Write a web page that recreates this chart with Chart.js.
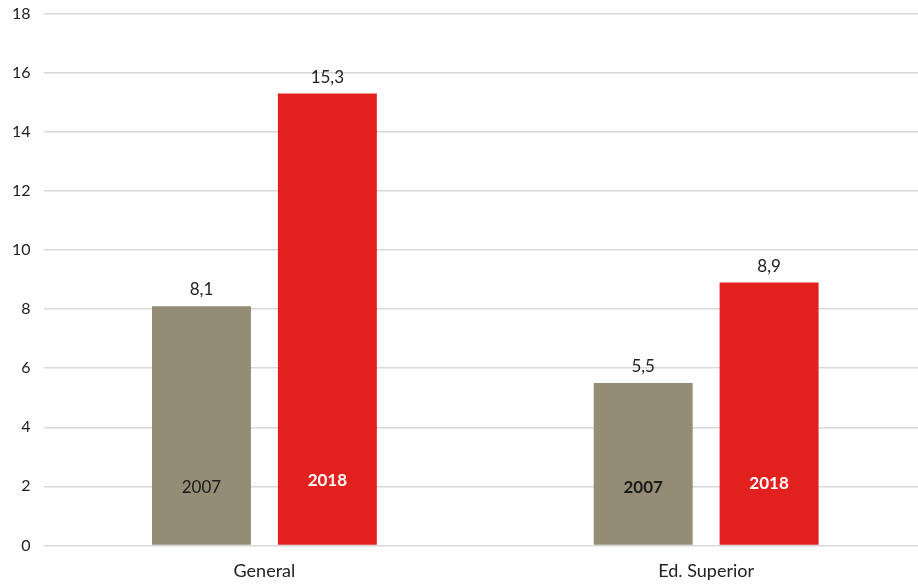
<!DOCTYPE html>
<html>
<head>
<meta charset="utf-8">
<script src="https://cdn.jsdelivr.net/npm/chart.js@4/dist/chart.umd.min.js"></script>
<style>
  html, body { margin: 0; padding: 0; background: #fff; overflow: hidden; }
  #wrap { width: 927px; height: 584px; }
</style>
</head>
<body>
<div id="wrap"><canvas id="chart"></canvas></div>
<script>
// ---- data ----
const categories = ["General", "Ed. Superior"];
const years = ["2007", "2018"];
const values2007 = [8.1, 5.5];
const values2018 = [15.3, 8.9];
const yMin = 0;
const yMax = 18;
const yStep = 2;

const FONT = "Lato, 'Open Sans', sans-serif";

// value above each bar + year label inside the bar
const barLabels = {
  id: "barLabels",
  afterDatasetsDraw(chart) {
    const ctx = chart.ctx;
    ctx.save();
    ctx.textAlign = "center";
    chart.data.datasets.forEach((ds, di) => {
      const meta = chart.getDatasetMeta(di);
      meta.data.forEach((bar, i) => {
        // value on top
        ctx.fillStyle = "#222";
        ctx.font = "17px " + FONT;
        ctx.textBaseline = "bottom";
        ctx.fillText(String(ds.data[i]).replace(".", ","), bar.x, bar.y - 8);
        // year inside the bar
        const bold = !(di === 0 && i === 0);
        ctx.font = (bold ? "bold " : "") + "17px " + FONT;
        ctx.fillStyle = di === 0 ? "#1a1a1a" : "#ffffff";
        ctx.textBaseline = "middle";
        const yOff = di === 0 ? 57 : (i === 0 ? 64 : 61);
        ctx.fillText(ds.label, bar.x, bar.base - yOff);
      });
    });
    ctx.restore();
  }
};

new Chart(document.getElementById("chart"), {
  type: "bar",
  data: {
    labels: categories,
    datasets: [
      { label: years[0], data: values2007, backgroundColor: "#948c74" },
      { label: years[1], data: values2018, backgroundColor: "#e2201e" }
    ]
  },
  options: {
    responsive: true,
    maintainAspectRatio: false,
    animation: false,
    datasets: {
      bar: { categoryPercentage: 0.57, barPercentage: 0.786 }
    },
    layout: { padding: { top: 0, left: -1, right: 0, bottom: -5 } },
    plugins: {
      legend: { display: false },
      tooltip: { enabled: false }
    },
    scales: {
      x: {
        grid: { display: false },
        border: { display: false },
        ticks: { color: "#222", font: { family: FONT, size: 18 }, padding: 7 }
      },
      y: {
        min: yMin,
        max: yMax,
        ticks: { stepSize: yStep, color: "#222", font: { family: FONT, size: 16, lineHeight: 0.1 }, padding: 13 },
        grid: { color: "#d9d9d9", lineWidth: 1.5, drawTicks: false },
        border: { display: false }
      }
    }
  },
  plugins: [barLabels]
});
</script>
</body>
</html>
